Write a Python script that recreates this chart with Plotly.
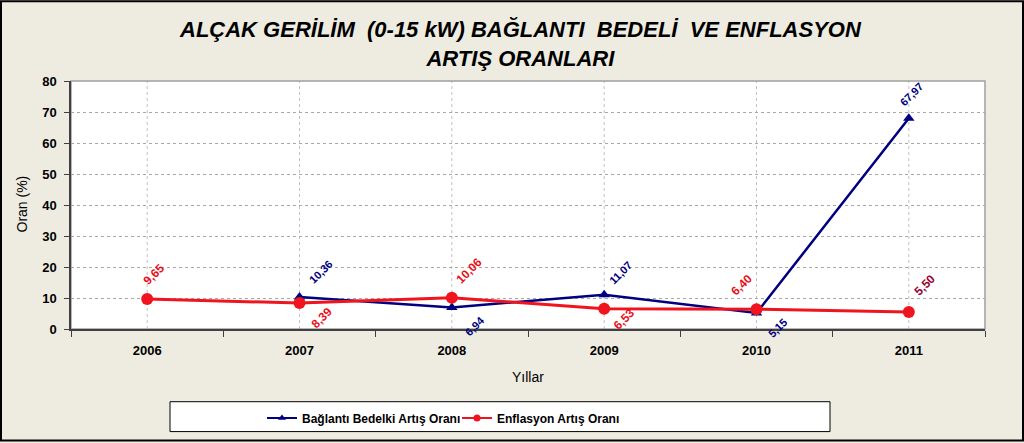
import plotly.graph_objects as go

years = ["2006", "2007", "2008", "2009", "2010", "2011"]
baglanti = [None, 10.36, 6.94, 11.07, 5.15, 67.97]
enflasyon = [9.65, 8.39, 10.06, 6.53, 6.40, 5.50]
baglanti_labels = [None, "10,36", "6,94", "11,07", "5,15", "67,97"]
enflasyon_labels = ["9,65", "8,39", "10,06", "6,53", "6,40", "5,50"]
# label offsets in px (dx, dy) relative to point
baglanti_off = [None, (21, -25), (23, 19), (16, -22), (21, 15), (3, -24)]
enflasyon_off = [(7, -25), (22, 15), (17, -27), (20, 10), (-15, -24), (16, -27)]
enflasyon_lcol = ["#E8101A", "#E8101A", "#E8101A", "#E8101A", "#E8101A", "#990033"]

NAVY = "#000080"
RED = "#F0141E"
BG = "#EEECE1"
FONT = "Arial, Liberation Sans"

L, R, T, B = 71, 39, 81, 113
W, H = 1024, 443
pw = W - L - R
ph = H - T - B

def px_x(p):
    return (p - L) / pw

def px_y(p):
    return (H - B - p) / ph

fig = go.Figure()
fig.add_trace(go.Scatter(
    x=years, y=baglanti, mode="lines+markers", name="Bağlantı Bedelki Artış Oranı",
    line=dict(color=NAVY, width=2.5), marker=dict(symbol="triangle-up", size=10, color=NAVY),
    connectgaps=False, cliponaxis=False, showlegend=False,
))
fig.add_trace(go.Scatter(
    x=years, y=enflasyon, mode="lines+markers", name="Enflasyon Artış Oranı",
    line=dict(color=RED, width=3), marker=dict(symbol="circle", size=12, color=RED),
    cliponaxis=False, showlegend=False,
))
# legend entries (smaller symbols as in the reference)
fig.add_trace(go.Scatter(
    x=[None], y=[None], mode="lines+markers", name="Bağlantı Bedelki Artış Oranı",
    line=dict(color=NAVY, width=2), marker=dict(symbol="triangle-up", size=7, color=NAVY),
))
fig.add_trace(go.Scatter(
    x=[None], y=[None], mode="lines+markers", name="Enflasyon Artış Oranı",
    line=dict(color=RED, width=2), marker=dict(symbol="circle", size=7, color=RED),
))

ann = []
for i, y in enumerate(years):
    if baglanti[i] is not None:
        dx, dy = baglanti_off[i]
        ann.append(dict(x=i, y=baglanti[i], xref="x", yref="y", text="<b>" + baglanti_labels[i] + "</b>",
                        showarrow=False, xanchor="center", yanchor="middle",
                        xshift=dx, yshift=-dy, textangle=-45,
                        font=dict(family=FONT, size=11, color=NAVY)))
    dx, dy = enflasyon_off[i]
    ann.append(dict(x=i, y=enflasyon[i], xref="x", yref="y", text="<b>" + enflasyon_labels[i] + "</b>",
                    showarrow=False, xanchor="center", yanchor="middle",
                    xshift=dx, yshift=-dy, textangle=-45,
                    font=dict(family=FONT, size=12, color=enflasyon_lcol[i])))

# titles
ann.append(dict(xref="paper", yref="paper", x=px_x(520), y=px_y(44), xanchor="center", yanchor="middle",
                showarrow=False,
                text="<b><i>ALÇAK GERİLİM  (0-15 kW) BAĞLANTI  BEDELİ  VE ENFLASYON<br>ARTIŞ ORANLARI</i></b>",
                font=dict(family="Liberation Sans Narrow, Arial Narrow, Arial, Liberation Sans", size=22,
                          color="#000000")))
ann.append(dict(xref="paper", yref="paper", x=px_x(22), y=px_y(205), xanchor="center", yanchor="middle",
                showarrow=False, textangle=-90,
                text="Oran (%)", font=dict(family=FONT, size=14, color="#000000")))
ann.append(dict(xref="paper", yref="paper", x=px_x(528), y=px_y(378), xanchor="center", yanchor="middle",
                showarrow=False,
                text="Yıllar", font=dict(family=FONT, size=14, color="#000000")))

shapes = []
# vertical gridlines at category centers
for i, y in enumerate(years):
    shapes.append(dict(type="line", xref="x", yref="paper", x0=i, x1=i, y0=0, y1=1,
                       line=dict(color="#C0C0C0", width=1, dash="dot"), layer="below"))
# plot border (top/right gray)
shapes.append(dict(type="rect", xref="paper", yref="paper", x0=0, x1=1, y0=0, y1=1,
                   line=dict(color="#A0A0A0", width=1.5), layer="below"))
# legend box
shapes.append(dict(type="rect", xref="paper", yref="paper", x0=px_x(170), x1=px_x(830),
                   y0=px_y(433), y1=px_y(403), line=dict(color="#000000", width=1),
                   fillcolor="#FFFFFF", layer="below"))
# outer frame
shapes.append(dict(type="rect", xref="paper", yref="paper", x0=px_x(1), x1=px_x(1023),
                   y0=px_y(442), y1=px_y(1), line=dict(color="#000000", width=2), layer="below"))

fig.update_layout(
    width=W, height=H, margin=dict(l=L, r=R, t=T, b=B),
    paper_bgcolor=BG, plot_bgcolor="#FFFFFF",
    showlegend=True,
    legend=dict(orientation="h", x=px_x(262), y=px_y(418), xanchor="left", yanchor="middle",
                bgcolor="rgba(0,0,0,0)", entrywidth=150, entrywidthmode="pixels",
                font=dict(family=FONT, size=12, color="#000000", weight="bold"),
                itemwidth=30),
    annotations=ann, shapes=shapes,
    xaxis=dict(type="category", categoryorder="array", categoryarray=years, range=[-0.5, 5.5],
               showgrid=False, tickson="boundaries", ticks="outside", ticklen=6, tickcolor="#404040",
               showline=True, linecolor="#404040", linewidth=1.5, zeroline=False,
               ticklabelstandoff=9,
               tickfont=dict(family=FONT, size=13, color="#000000", weight="bold")),
    yaxis=dict(range=[0, 80], dtick=10, showgrid=True, gridcolor="#A8A8A8", griddash="dot",
               gridwidth=1, ticks="outside", ticklen=5, tickcolor="#404040",
               showline=True, linecolor="#404040", linewidth=1.5, zeroline=False,
               ticklabelstandoff=5,
               tickfont=dict(family=FONT, size=13, color="#000000", weight="bold")),
)

fig.write_html("out.html")
